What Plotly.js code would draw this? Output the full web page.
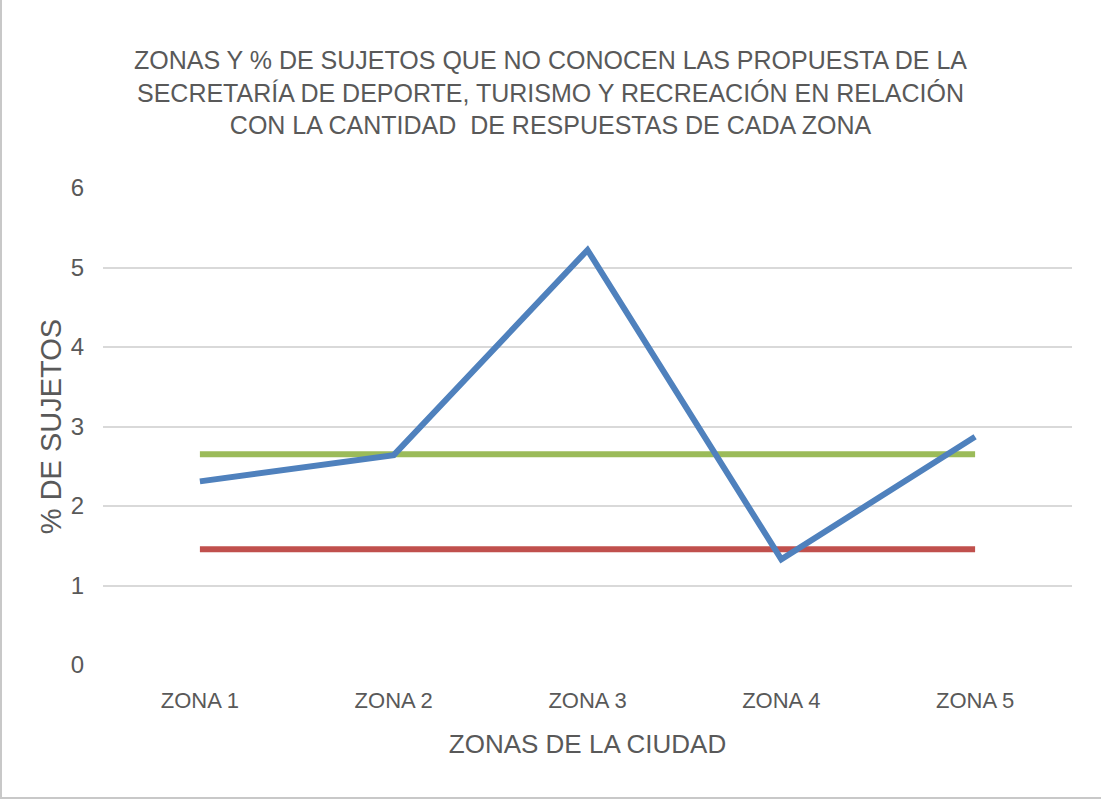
<!DOCTYPE html>
<html>
<head>
<meta charset="utf-8">
<script src="https://cdn.plot.ly/plotly-3.0.1.min.js"></script>
<style>
html,body{margin:0;padding:0;background:#fff;}
#chart{width:1101px;height:799px;box-sizing:border-box;border-left:2px solid #c8c8c8;border-bottom:2px solid #c8c8c8;}
</style>
</head>
<body>
<div id="chart"></div>
<script>
const zonas = ["ZONA 1", "ZONA 2", "ZONA 3", "ZONA 4", "ZONA 5"];
const porcentaje = [2.31, 2.64, 5.22, 1.33, 2.87];
const lineaVerde = [2.65, 2.65, 2.65, 2.65, 2.65];
const lineaRoja = [1.455, 1.455, 1.455, 1.455, 1.455];
const yTicks = [0, 1, 2, 3, 4, 5, 6];

const FONT = '"Liberation Sans Narrow", "Arial Narrow", "Liberation Sans", Arial, sans-serif';

const traces = [
  {x: zonas, y: lineaRoja, mode: 'lines', name: 'Serie 3', line: {color: '#C0504D', width: 6}},
  {x: zonas, y: lineaVerde, mode: 'lines', name: 'Serie 2', line: {color: '#9BBB59', width: 6}},
  {x: zonas, y: porcentaje, mode: 'lines', name: 'Serie 1', line: {color: '#4F81BD', width: 6}}
];

const layout = {
  width: 1097, height: 797,
  margin: {l: 101, r: 27, t: 188, b: 132},
  paper_bgcolor: '#ffffff', plot_bgcolor: '#ffffff',
  showlegend: false,
  font: {family: FONT, color: '#595959'},
  title: {
    text: 'ZONAS Y % DE SUJETOS QUE NO CONOCEN LAS PROPUESTA DE LA<br>SECRETARÍA DE DEPORTE, TURISMO Y RECREACIÓN EN RELACIÓN<br>CON LA CANTIDAD  DE RESPUESTAS DE CADA ZONA',
    font: {family: FONT, size: 25, color: '#595959'},
    x: 0.5, xanchor: 'center', xref: 'container',
    y: 1 - 69 / 797, yanchor: 'middle', yref: 'container'
  },
  xaxis: {
    type: 'category',
    range: [-0.5, 4.5],
    showgrid: false, zeroline: false, showline: false,
    ticks: '', tickfont: {family: FONT, size: 22, color: '#595959'},
    ticklabelstandoff: 20,
    title: {text: 'ZONAS DE LA CIUDAD', font: {family: FONT, size: 26, color: '#595959'}, standoff: 22},
    fixedrange: true
  },
  yaxis: {
    range: [0, 6],
    tickvals: yTicks,
    showgrid: true, gridcolor: '#d9d9d9', gridwidth: 2,
    zeroline: false, showline: false, ticks: '',
    tickfont: {family: FONT, size: 24, color: '#595959'},
    ticklabelstandoff: 18,
    title: {text: '% DE SUJETOS', font: {family: FONT, size: 29, color: '#595959'}, standoff: 0},
    fixedrange: true
  }
};

Plotly.newPlot('chart', traces, layout, {displayModeBar: false, staticPlot: true});
</script>
</body>
</html>
